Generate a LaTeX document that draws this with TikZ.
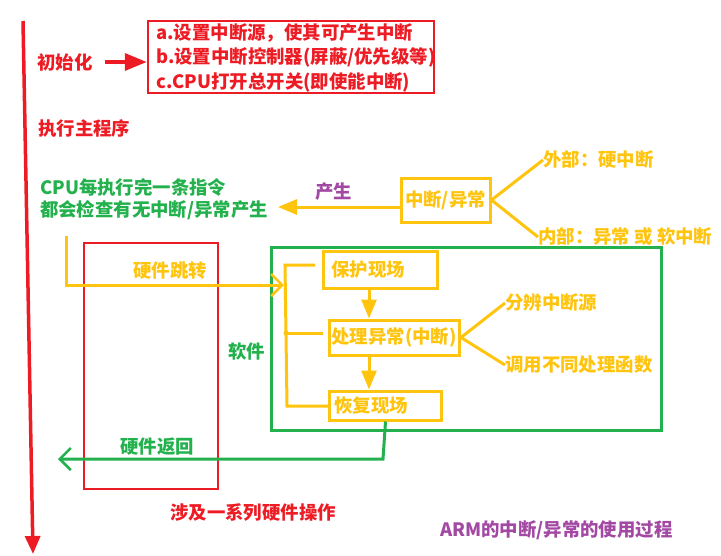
\documentclass[tikz,border=0pt]{standalone}
\usepackage{fontspec}
\setmainfont{Noto Sans CJK SC}
\usetikzlibrary{arrows.meta}
\definecolor{pred}{RGB}{237,28,36}
\definecolor{pyel}{RGB}{255,196,14}
\definecolor{pgrn}{RGB}{34,177,76}
\definecolor{ppur}{RGB}{163,73,164}
\tikzset{
  lbl/.style={font=\fontsize{18.4}{24.5}\selectfont\bfseries, inner sep=0pt, anchor=west},
  redbox/.style={draw=pred, line width=2.5pt},
  yelbox/.style={draw=pyel, line width=3pt, text=pyel, font=\fontsize{18.4}{22}\selectfont\bfseries, inner ysep=0pt},
  yline/.style={draw=pyel, line width=3pt},
  gline/.style={draw=pgrn, line width=3pt},
  barb/.style={-{Straight Barb[length=11pt,width=22pt,line width=2.5pt]}},
  fillhead/.style={-{Triangle[length=19pt,width=15pt]}}
}
\begin{document}
\begin{tikzpicture}[x=1pt,y=-1pt]
\useasboundingbox (0,0) rectangle (721,555);
% main red timeline
\coordinate (mtop) at (23,21);
\coordinate (mbot) at (33,554);
\draw[pred, line width=3.5pt, -{Triangle[length=18pt,width=15pt]}] (mtop) -- (mbot);

% initialisation
\node[lbl, text=pred] (init) at (37,62) {初始化};
\node[redbox, minimum width=286pt, minimum height=72pt, inner sep=0pt] (initbox) at (291,57) {};
\node[lbl, text=pred, align=left] (inittxt) at (156,57.5) {a.设置中断源，使其可产生中断\\b.设置中断控制器(屏蔽/优先级等)\\c.CPU打开总开关(即使能中断)};
\draw[pred, line width=3.5pt, -{Triangle[length=22pt,width=17pt]}] ([xshift=12pt]init.east) -- (initbox.west |- init.east);

\node[lbl, text=pred] (mainprog) at (38,128) {执行主程序};

% CPU check
\node[lbl, text=pgrn, align=left, font=\fontsize{18.4}{22}\selectfont\bfseries] (cpu) at (40,199) {CPU每执行完一条指令\\都会检查有无中断/异常产生};

% interrupt / exception
\node[yelbox, minimum width=89pt, minimum height=44pt] (intr) at (445.5,200) {中断/异常};
\coordinate (cpuarrow) at (278,207);
\draw[yline, fillhead] (intr.west |- cpuarrow) -- (cpuarrow);
\node[lbl, text=ppur] (gen) at (315,192) {产生};
\node[lbl, text=pyel] (ext) at (543,160) {外部：硬中断};
\node[lbl, text=pyel] (inn) at (538,237) {内部：异常 或 软中断};
\draw[yline] (ext.west) -- (intr.east) -- (inn.west);

% hardware box
\node[redbox, minimum width=134pt, minimum height=246pt, inner sep=0pt] (hwbox) at (151,366) {};
\node[lbl, text=pred] (hwops) at (170,513) {涉及一系列硬件操作};

% software box
\node[draw=pgrn, line width=3pt, minimum width=390pt, minimum height=183pt, inner sep=0pt] (swbox) at (466,338.5) {};
\node[lbl, text=pgrn] (sw) at (228,352) {软件};

% steps
\node[yelbox, anchor=west, text width=98pt, inner xsep=8pt, minimum height=37pt, align=left] (protect) at (322,269.5) {保护现场};
\node[yelbox, anchor=west, text width=126pt, inner xsep=2pt, minimum height=35pt, align=left] (handle) at (328,337.5) {处理异常(中断)};
\node[yelbox, anchor=west, text width=102pt, inner xsep=5pt, minimum height=29pt, align=left] (restore) at (328,405.5) {恢复现场};
\coordinate (ax) at (369,0);
\draw[yline, fillhead] (protect.south -| ax) -- (handle.north -| ax);
\draw[yline, fillhead] (handle.south -| ax) -- (restore.north -| ax);

% bracket
\coordinate (bt) at (315,265);
\coordinate (bl) at (285,265);
\coordinate (bb) at (287,406);
\coordinate (bm) at (286,333);
\coordinate (bmr) at (323,333);
\draw[yline] (bt) -- (bl) -- (bb) -- (restore.west |- bb);
\draw[yline] (bm) -- (bmr);
\fill[pyel] (bm) circle (2.5pt);

% handle branches
\node[lbl, text=pyel] (src) at (505,303) {分辨中断源};
\node[lbl, text=pyel] (func) at (505,365) {调用不同处理函数};
\draw[yline] (src.west) -- (handle.east) -- (func.west);

% hardware jump
\coordinate (hjs) at (66,236);
\coordinate (hje) at (284,285);
\draw[yline, barb] (hjs) |- (hje);
\node[lbl, text=pyel] (jump) at (133,271) {硬件跳转};

% hardware return
\coordinate (rb) at (383,459);
\coordinate (rend) at (58,459);
\draw[gline, barb] (restore.south) -- (rb) -- (rend);
\node[lbl, text=pgrn] (ret) at (120,447) {硬件返回};

% title
\node[lbl, text=ppur] (title) at (440,530) {ARM的中断/异常的使用过程};
\end{tikzpicture}
\end{document}
